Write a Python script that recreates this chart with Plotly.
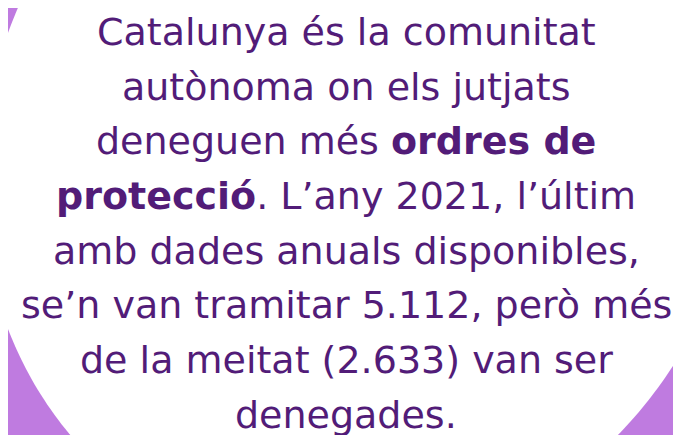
import numpy as np
import plotly.graph_objects as go

W, H = 681, 435

lines = [
    "Catalunya és la comunitat",
    "autònoma on els jutjats",
    "deneguen més <b>ordres de</b>",
    "<b>protecció</b>. L’any 2021, l’últim",
    "amb dades anuals disponibles,",
    "se’n van tramitar 5.112, però més",
    "de la meitat (2.633) van ser",
    "denegades.",
]

BG = "#bf7be0"
TXT = "#521c78"

# boundary points of the white disc (pixel coords) -> fit a conic
bx = np.array([11, 0, 0, 28, 69, 601, 651, 681], float)
by = np.array([0, 18, 318, 380, 435, 435, 380, 330], float)
Mx = np.column_stack([bx**2, bx*by, by**2, bx, by, np.ones_like(bx)])
_, _, vt = np.linalg.svd(Mx)
A, B, C, D, E, F = vt[-1]
cen = np.linalg.solve([[2*A, B], [B, 2*C]], [-D, -E])
Fp = F + (D*cen[0] + E*cen[1]) / 2
Q = np.array([[A, B/2], [B/2, C]])
lam, vec = np.linalg.eigh(Q)
ax_len = np.sqrt(-Fp / lam)
t = np.linspace(0, 2*np.pi, 400)
pts = cen[:, None] + vec @ np.vstack([ax_len[0]*np.cos(t), ax_len[1]*np.sin(t)])
path = "M " + " L ".join(f"{x:.2f},{y:.2f}" for x, y in pts.T) + " Z"

fig = go.Figure()
fig.add_shape(type="path", path=path, xref="x", yref="y",
              fillcolor="white", line=dict(width=0), layer="below")

base0, step = 44, 54.7
fs = 38
for i, s in enumerate(lines):
    fig.add_annotation(x=338, y=base0 + step*i - 0.53*fs, text=s, showarrow=False,
                       xanchor="center", yanchor="middle",
                       font=dict(family="DejaVu Sans", size=fs, color=TXT))

fig.update_layout(
    width=W, height=H, margin=dict(l=0, r=0, t=0, b=0),
    paper_bgcolor=BG, plot_bgcolor=BG, showlegend=False,
    xaxis=dict(range=[0, W], visible=False, fixedrange=True),
    yaxis=dict(range=[H, 0], visible=False, fixedrange=True),
)
fig.write_html("out.html")
